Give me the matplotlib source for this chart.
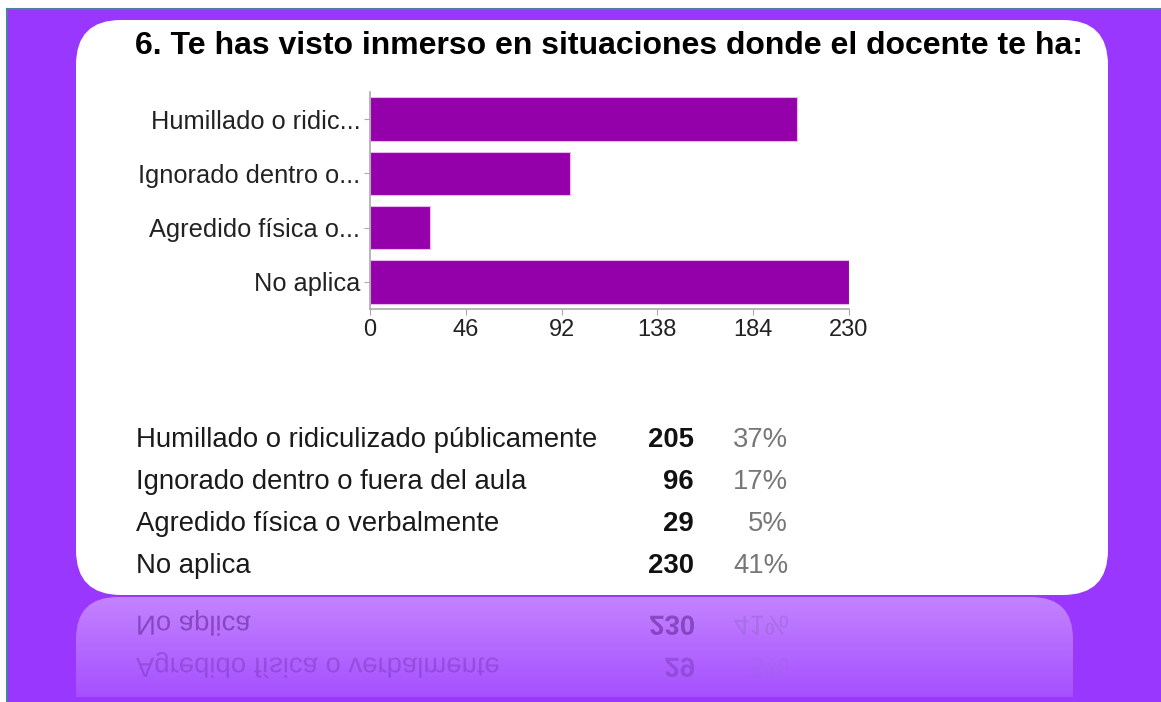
import numpy as np
import matplotlib
matplotlib.use("Agg")
import matplotlib.pyplot as plt
from matplotlib.patches import FancyBboxPatch, Rectangle, PathPatch
from matplotlib.textpath import TextPath
from matplotlib.font_manager import FontProperties
from matplotlib.transforms import Affine2D

plt.rcParams['font.family'] = ['Liberation Sans', 'DejaVu Sans']

# datos de la pregunta 6
titulo = "6. Te has visto inmerso en situaciones donde el docente te ha:"
categorias = ["Humillado o ridiculizado públicamente", "Ignorado dentro o fuera del aula",
              "Agredido física o verbalmente", "No aplica"]
etiquetas_cortas = ["Humillado o ridic...", "Ignorado dentro o...", "Agredido física o...", "No aplica"]
conteos = [205, 96, 29, 230]
porcentajes = ["37%", "17%", "5%", "41%"]
ticks_x = [0, 46, 92, 138, 184, 230]

W, H = 1161, 702
fig = plt.figure(figsize=(W / 100, H / 100), dpi=100)
fig.patch.set_facecolor("white")

# fondo en coordenadas de pixel (y hacia abajo)
bg = fig.add_axes([0, 0, 1, 1])
bg.set_xlim(0, W)
bg.set_ylim(H, 0)
bg.axis("off")

morado = "#9937ff"
bg.add_patch(Rectangle((7, 9), W - 7, H - 9, facecolor=morado, edgecolor="none"))
bg.plot([7, W], [9, 9], color="#4d7f9e", lw=1.5)
bg.plot([7, 7], [9, H], color="#4d7f9e", lw=1.5)

# caja blanca
caja = FancyBboxPatch((76 + 45, 20 + 45), 1108 - 76 - 90, 595 - 20 - 90,
                      boxstyle="round,pad=45", facecolor="white", edgecolor="none")
bg.add_patch(caja)

# reflejo con degradado
refl = FancyBboxPatch((76 + 42, 597 + 42), 1073 - 76 - 84, 200,
                      boxstyle="round,pad=42", facecolor="none", edgecolor="none")
bg.add_patch(refl)
grad = np.linspace(0, 1, 100).reshape(-1, 1)
c1 = np.array(matplotlib.colors.to_rgb("#c383ff"))
c2 = np.array(matplotlib.colors.to_rgb("#a650ff"))
img = c1[None, None, :] * (1 - grad[:, :, None]) + c2[None, None, :] * grad[:, :, None]
im = bg.imshow(img, extent=(76, 1073, 697, 597), aspect="auto", zorder=1)
im.set_clip_path(refl)

# titulo
bg.text(609, 46, titulo, fontsize=23, fontweight="bold", ha="center", va="center", color="black")

# tabla
filas_y = [440, 482, 524, 566]
fs_tabla = 19.8
for i in range(len(categorias)):
    bg.text(136, filas_y[i], categorias[i], fontsize=fs_tabla, ha="left", va="center", color="#1a1a1a")
    bg.text(694, filas_y[i], str(conteos[i]), fontsize=fs_tabla, fontweight="bold", ha="right", va="center", color="#111111")
    bg.text(788, filas_y[i], porcentajes[i], fontsize=fs_tabla, ha="right", va="center", color="#777777")

# texto reflejado (ultimas dos filas)
eje = 595
px = fs_tabla * 100 / 72
prop_n = FontProperties(family="Liberation Sans")
prop_b = FontProperties(family="Liberation Sans", weight="bold")
def reflejo(s, x, y_centro, prop, color, alpha, ha="left"):
    tp = TextPath((0, 0), s, size=px, prop=prop)
    ancho = tp.get_extents().x1
    x0 = x - ancho if ha == "right" else x
    base = y_centro + px * 0.30
    yb = 2 * eje - base
    tr = Affine2D().translate(x0, yb) + bg.transData
    bg.add_patch(PathPatch(tp, transform=tr, facecolor=color, edgecolor="none", alpha=alpha, zorder=2))

alfas = {2: 0.3, 3: 0.55}
for i in [2, 3]:
    reflejo(categorias[i], 136, filas_y[i], prop_n, "#5e2290", alfas[i])
    reflejo(str(conteos[i]), 694, filas_y[i], prop_b, "#5e2290", alfas[i], ha="right")
    reflejo(porcentajes[i], 788, filas_y[i], prop_n, "#9a6ad0", alfas[i], ha="right")

# grafico de barras
ax = fig.add_axes([370 / W, (H - 309) / H, 479 / W, 217 / H])
ax.patch.set_alpha(0)
y = np.arange(len(conteos))
ax.barh(y, conteos, height=0.8, color="#9400a9", edgecolor="#e9b8ef", linewidth=0.8)
ax.set_ylim(3.5, -0.5)
ax.set_xlim(0, 230)
ax.set_xticks(ticks_x)
ax.set_xticklabels([str(t) for t in ticks_x])
ax.set_yticks(y)
ax.set_yticklabels(etiquetas_cortas, fontsize=18.3)
for s in ["top", "right"]:
    ax.spines[s].set_visible(False)
for s in ["left", "bottom"]:
    ax.spines[s].set_color("#aaaaaa")
    ax.spines[s].set_linewidth(1.2)
ax.tick_params(axis="both", colors="#aaaaaa", length=4, labelcolor="#222222")
ax.tick_params(axis="x", labelsize=17, pad=3)
ax.tick_params(axis="y", pad=3)

fig.savefig("out.png", dpi=100)
